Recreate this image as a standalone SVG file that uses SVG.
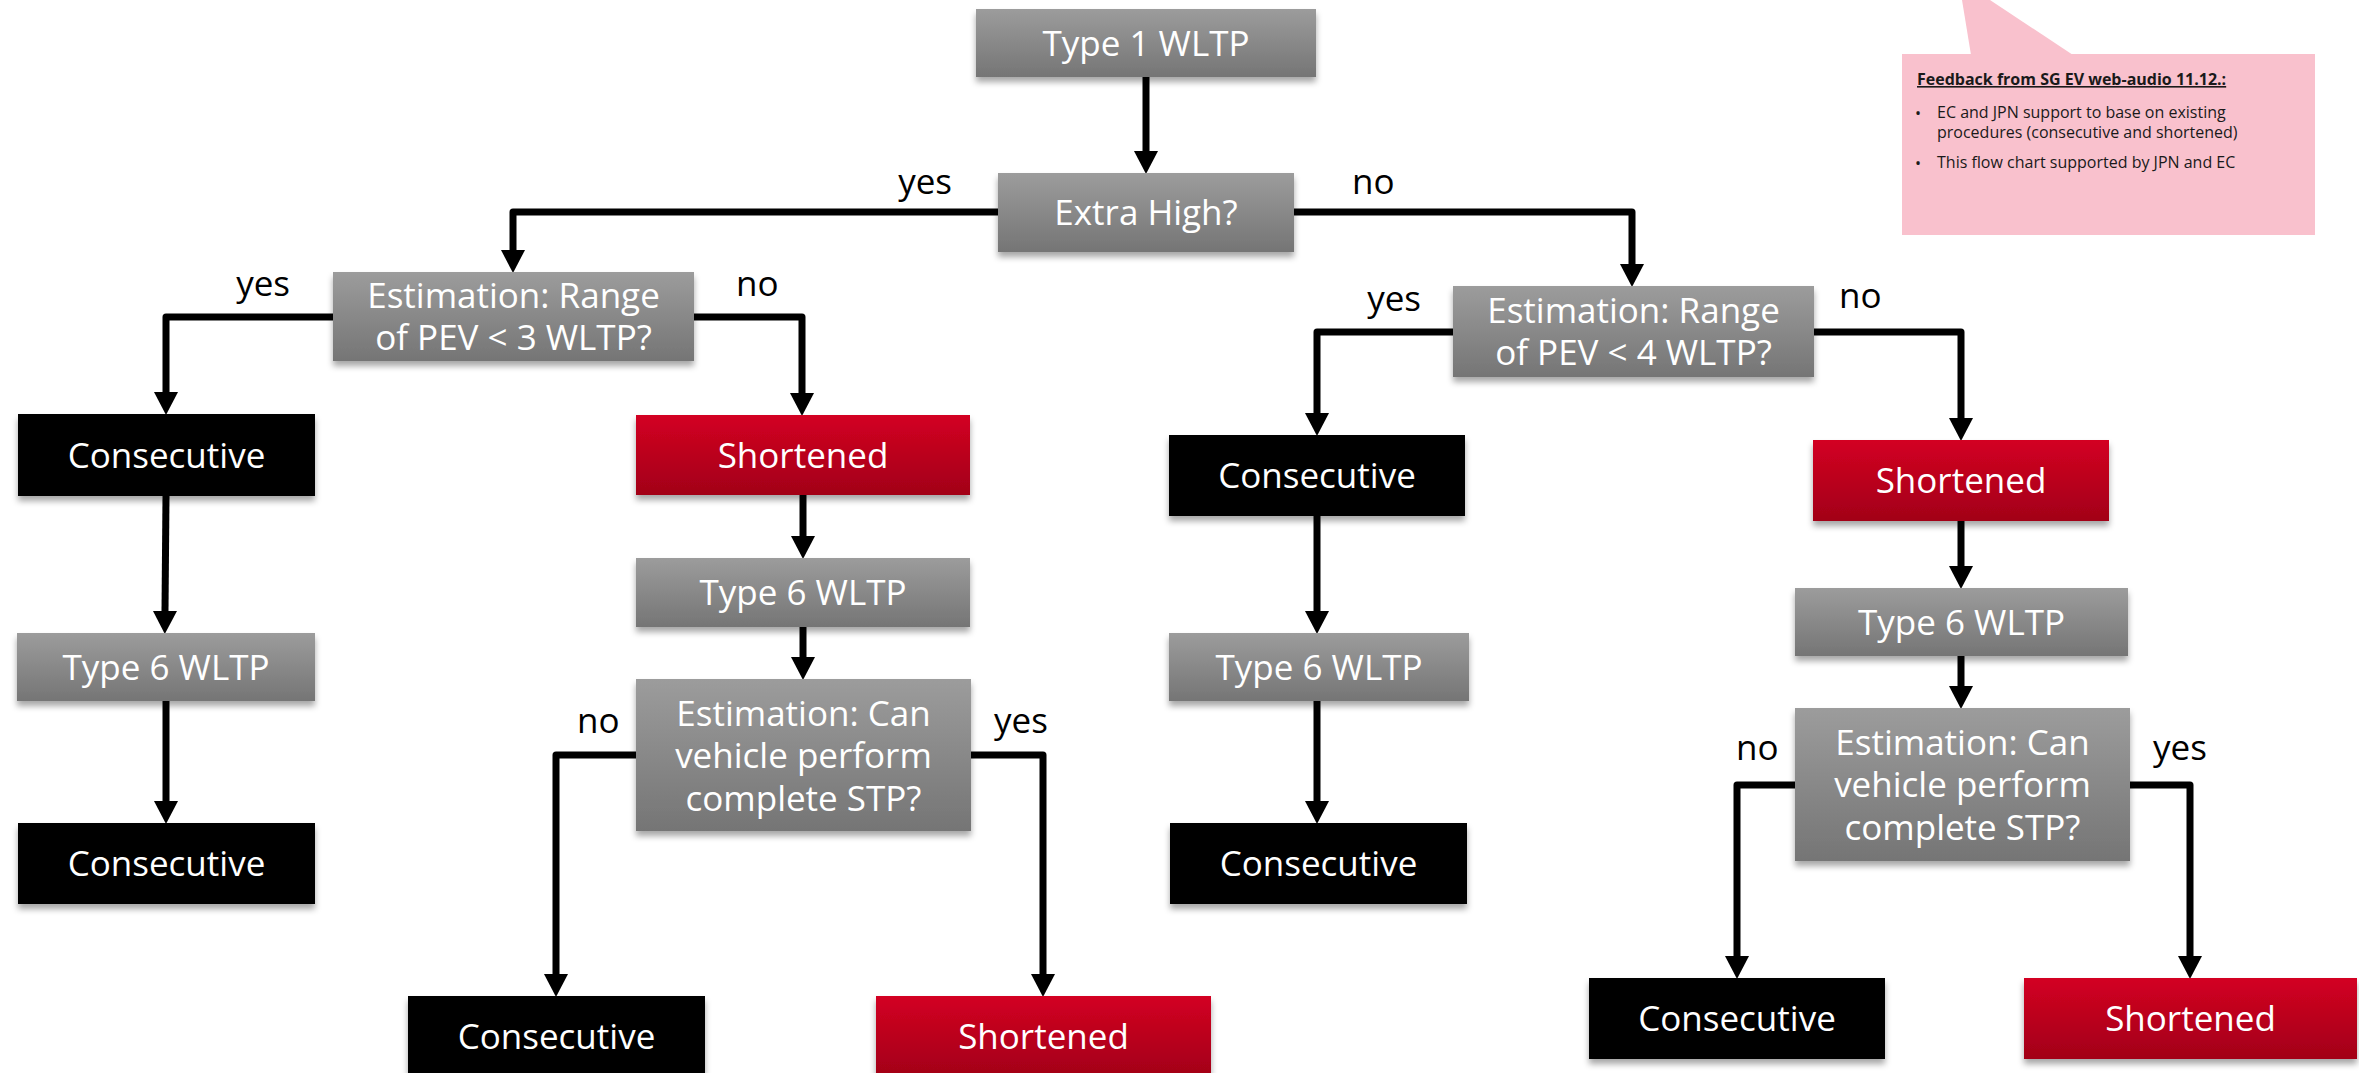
<svg xmlns="http://www.w3.org/2000/svg" width="2359" height="1073" viewBox="0 0 2359 1073">
<defs>
<linearGradient id="gGray" x1="0" y1="0" x2="0" y2="1">
<stop offset="0" stop-color="#9c9c9c"/>
<stop offset="1" stop-color="#757575"/>
</linearGradient>
<linearGradient id="gRed" x1="0" y1="0" x2="0" y2="1">
<stop offset="0" stop-color="#d30022"/>
<stop offset="1" stop-color="#a20018"/>
</linearGradient>
<filter id="sh" x="-10%" y="-20%" width="120%" height="150%">
<feDropShadow dx="0" dy="5" stdDeviation="3" flood-color="#000" flood-opacity="0.35"/>
</filter>
<marker id="arr" markerUnits="userSpaceOnUse" markerWidth="26" markerHeight="26" viewBox="0 -13 24 26" refX="0" refY="0" orient="auto">
<path d="M0,-12 L23,0 L0,12 z" fill="#000"/>
</marker>
</defs>
<style>
.gray{fill:url(#gGray);filter:url(#sh);}
.red{fill:url(#gRed);filter:url(#sh);}
.blk{fill:#000;filter:url(#sh);}
.t{font-family:"Open Sans","Noto Sans",sans-serif;font-size:35px;fill:#fff;text-anchor:middle;}
.lbl{font-family:"Open Sans","Noto Sans",sans-serif;font-size:35px;fill:#000;}
.c{fill:none;stroke:#000;stroke-width:7;stroke-linejoin:round;marker-end:url(#arr);}
.note{font-family:"Open Sans","Noto Sans",sans-serif;font-size:16px;fill:#1a1a1a;}
</style>
<rect width="2359" height="1073" fill="#fff"/>

<g id="callout">
<polygon points="1962,0 1990,0 2073,55 1971,55" fill="#f9c1cd"/>
<rect x="1902" y="54" width="413" height="181" fill="#f9c1cd"/>
<text class="note" x="1917" y="85" font-weight="bold" text-decoration="underline">Feedback from SG EV web-audio 11.12.:</text>
<text class="note" x="1915" y="119" font-size="18">•</text>
<text class="note"><tspan x="1937" y="118">EC and JPN support to base on existing</tspan><tspan x="1937" y="138">procedures (consecutive and shortened)</tspan></text>
<text class="note" x="1915" y="169" font-size="18">•</text>
<text class="note" x="1937" y="168">This flow chart supported by JPN and EC</text>
</g>

<g id="connectors">
<path class="c" d="M1146,77 V151"/>
<path class="c" d="M998,212 H513 V250"/>
<path class="c" d="M1294,212 H1632 V264"/>
<path class="c" d="M333,317 H166 V392"/>
<path class="c" d="M694,317 H802 V393"/>
<path class="c" d="M166,496 L165,611"/>
<path class="c" d="M166,701 V801"/>
<path class="c" d="M803,495 V536"/>
<path class="c" d="M803,627 V657"/>
<path class="c" d="M636,755 H556 V974"/>
<path class="c" d="M971,755 H1043 V974"/>
<path class="c" d="M1453,332 H1317 V413"/>
<path class="c" d="M1814,332 H1961 V418"/>
<path class="c" d="M1317,516 V611"/>
<path class="c" d="M1317,701 V801"/>
<path class="c" d="M1961,521 V566"/>
<path class="c" d="M1961,656 V686"/>
<path class="c" d="M1795,785 H1737 V956"/>
<path class="c" d="M2130,785 H2190 V956"/>
</g>

<g id="labels">
<text class="lbl" x="952" y="194" text-anchor="end">yes</text>
<text class="lbl" x="1352" y="194">no</text>
<text class="lbl" x="290" y="296" text-anchor="end">yes</text>
<text class="lbl" x="736" y="296">no</text>
<text class="lbl" x="577" y="733">no</text>
<text class="lbl" x="994" y="733">yes</text>
<text class="lbl" x="1421" y="311" text-anchor="end">yes</text>
<text class="lbl" x="1839" y="308">no</text>
<text class="lbl" x="1736" y="760">no</text>
<text class="lbl" x="2153" y="760">yes</text>
</g>

<g id="n1"><rect class="gray" x="976" y="9" width="340" height="68"/><text class="t" x="1146" y="55.5">Type 1 WLTP</text></g>
<g id="n2"><rect class="gray" x="998" y="173" width="296" height="79"/><text class="t" x="1146" y="225">Extra High?</text></g>
<g id="n3"><rect class="gray" x="333" y="272" width="361" height="89"/><text class="t"><tspan x="513.5" y="308">Estimation: Range</tspan><tspan x="513.5" y="350">of PEV &lt; 3 WLTP?</tspan></text></g>
<g id="n4"><rect class="blk" x="18" y="414" width="297" height="82"/><text class="t" x="166.5" y="467.5">Consecutive</text></g>
<g id="n5"><rect class="gray" x="17" y="633" width="298" height="68"/><text class="t" x="166" y="679.5">Type 6 WLTP</text></g>
<g id="n6"><rect class="blk" x="18" y="823" width="297" height="81"/><text class="t" x="166.5" y="876">Consecutive</text></g>
<g id="n7"><rect class="red" x="636" y="415" width="334" height="80"/><text class="t" x="803" y="467.5">Shortened</text></g>
<g id="n8"><rect class="gray" x="636" y="558" width="334" height="69"/><text class="t" x="803" y="605">Type 6 WLTP</text></g>
<g id="n9"><rect class="gray" x="636" y="679" width="335" height="152"/><text class="t"><tspan x="803.5" y="726">Estimation: Can</tspan><tspan x="803.5" y="768">vehicle perform</tspan><tspan x="803.5" y="811">complete STP?</tspan></text></g>
<g id="n10"><rect class="blk" x="408" y="996" width="297" height="81"/><text class="t" x="556.5" y="1049">Consecutive</text></g>
<g id="n11"><rect class="red" x="876" y="996" width="335" height="81"/><text class="t" x="1043.5" y="1049">Shortened</text></g>
<g id="n12"><rect class="gray" x="1453" y="286" width="361" height="91"/><text class="t"><tspan x="1633.5" y="323">Estimation: Range</tspan><tspan x="1633.5" y="365">of PEV &lt; 4 WLTP?</tspan></text></g>
<g id="n13"><rect class="blk" x="1169" y="435" width="296" height="81"/><text class="t" x="1317" y="488">Consecutive</text></g>
<g id="n14"><rect class="gray" x="1169" y="633" width="300" height="68"/><text class="t" x="1319" y="679.5">Type 6 WLTP</text></g>
<g id="n15"><rect class="blk" x="1170" y="823" width="297" height="81"/><text class="t" x="1318.5" y="876">Consecutive</text></g>
<g id="n16"><rect class="red" x="1813" y="440" width="296" height="81"/><text class="t" x="1961" y="493">Shortened</text></g>
<g id="n17"><rect class="gray" x="1795" y="588" width="333" height="68"/><text class="t" x="1961.5" y="634.5">Type 6 WLTP</text></g>
<g id="n18"><rect class="gray" x="1795" y="708" width="335" height="153"/><text class="t"><tspan x="1962.5" y="755">Estimation: Can</tspan><tspan x="1962.5" y="797">vehicle perform</tspan><tspan x="1962.5" y="840">complete STP?</tspan></text></g>
<g id="n19"><rect class="blk" x="1589" y="978" width="296" height="81"/><text class="t" x="1737" y="1031">Consecutive</text></g>
<g id="n20"><rect class="red" x="2024" y="978" width="333" height="81"/><text class="t" x="2190.5" y="1031">Shortened</text></g>
</svg>
